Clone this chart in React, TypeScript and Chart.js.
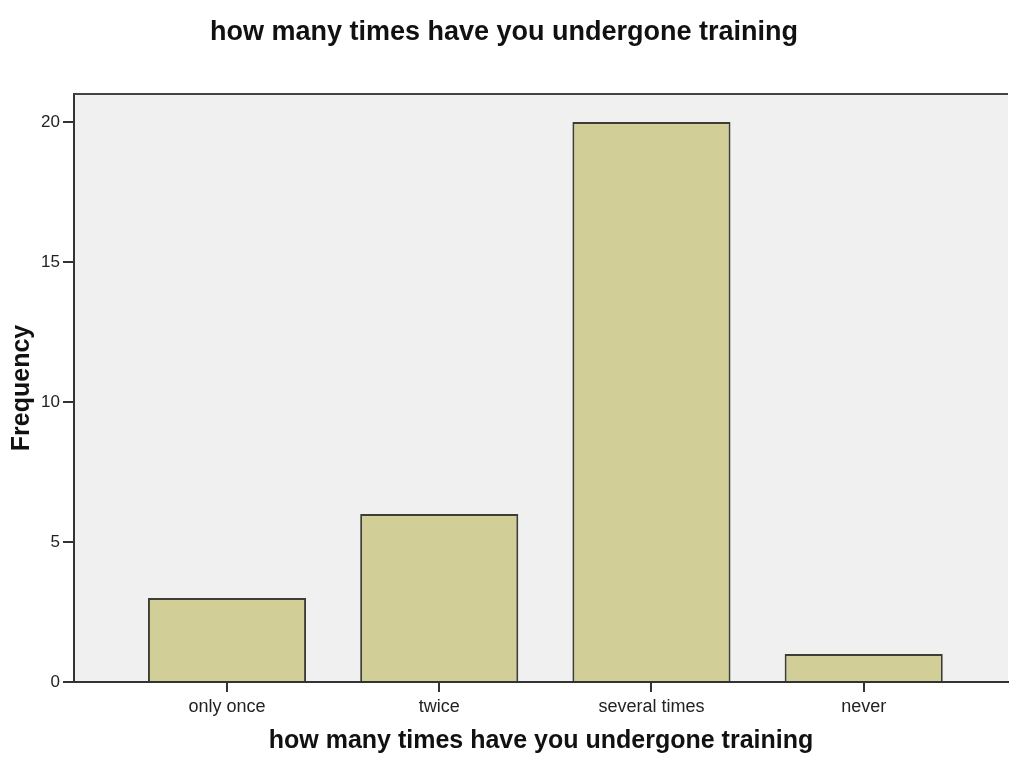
import React, { useEffect, useRef } from "react";
import { Chart, registerables } from "chart.js";

Chart.register(...registerables);

const CHART_TITLE = "how many times have you undergone training";
const X_TITLE = "how many times have you undergone training";
const Y_TITLE = "Frequency";
const categories = ["only once", "twice", "several times", "never"];
const frequencies = [3, 6, 20, 1];
const yTickValues = [0, 5, 10, 15, 20];

const FONT = "'Liberation Sans', Arial, sans-serif";

export default function App() {
  const ref = useRef<HTMLCanvasElement>(null);

  useEffect(() => {
    if (!ref.current) return;

    const plotFrame = {
      id: "plotFrame",
      beforeDraw(chart: any) {
        const { ctx, chartArea: a } = chart;
        ctx.save();
        ctx.fillStyle = "#F0F0F0";
        ctx.fillRect(a.left, a.top, a.right - a.left, a.bottom - a.top);
        ctx.restore();
      },
      afterDraw(chart: any) {
        const { ctx, chartArea: a } = chart;
        ctx.save();
        ctx.strokeStyle = "#444444";
        ctx.lineWidth = 2;
        ctx.beginPath();
        ctx.moveTo(a.left, a.top);
        ctx.lineTo(a.right, a.top);
        ctx.stroke();
        ctx.restore();
      },
    };

    const chart = new Chart(ref.current, {
      type: "bar",
      data: {
        datasets: [
          {
            data: categories.map((c, i) => ({ x: i, y: frequencies[i] })),
            backgroundColor: "#D2CE98",
            borderColor: "#3D3D35",
            borderWidth: 2,
            categoryPercentage: 1,
            barPercentage: 0.745,
          },
        ],
      },
      options: {
        responsive: false,
        animation: false,
        devicePixelRatio: 1,
        layout: { padding: { left: 0, right: 1, top: 0, bottom: 0 } },
        plugins: {
          legend: { display: false },
          tooltip: { enabled: false },
          title: {
            display: true,
            text: CHART_TITLE,
            color: "#111111",
            font: { family: FONT, size: 27, weight: "bold" },
            padding: { top: 16, bottom: 45.6 },
          },
        },
        scales: {
          x: {
            type: "linear",
            offset: false,
            min: -0.721,
            max: 3.68,
            afterBuildTicks: (scale: any) => {
              scale.ticks = categories.map((c, i) => ({ value: i }));
            },
            afterFit: (scale: any) => {
              scale.height = 80;
            },
            ticks: {
              autoSkip: false,
              maxRotation: 0,
              padding: 4,
              color: "#222222",
              font: { family: FONT, size: 18 },
              callback: (v: any) => categories[Number(v)] ?? "",
            },
            grid: {
              offset: false,
              drawOnChartArea: false,
              drawTicks: true,
              tickLength: 10,
              color: "#333333",
              lineWidth: 2,
            },
            border: { display: true, color: "#333333", width: 2 },
            title: {
              display: true,
              text: X_TITLE,
              color: "#111111",
              font: { family: FONT, size: 25, weight: "bold" },
              padding: { top: 0, bottom: 6 },
            },
          },
          y: {
            min: 0,
            max: 21,
            afterBuildTicks: (scale: any) => {
              scale.ticks = yTickValues.map((v) => ({ value: v }));
            },
            afterFit: (scale: any) => {
              scale.width = 74;
            },
            ticks: {
              padding: 3,
              color: "#222222",
              font: { family: FONT, size: 17 },
            },
            grid: {
              drawOnChartArea: false,
              drawTicks: true,
              tickLength: 11,
              color: "#333333",
              lineWidth: 2,
            },
            border: { display: true, color: "#333333", width: 2 },
            title: {
              display: true,
              text: Y_TITLE,
              color: "#111111",
              font: { family: FONT, size: 25, weight: "bold" },
              padding: { top: 7, bottom: 0 },
            },
          },
        },
      },
      plugins: [plotFrame],
    } as any);

    return () => chart.destroy();
  }, []);

  return (
    <div style={{ position: "absolute", left: 0, top: 0, width: 1009, height: 762, background: "#ffffff" }}>
      <canvas ref={ref} width={1009} height={762} style={{ display: "block" }} />
    </div>
  );
}
